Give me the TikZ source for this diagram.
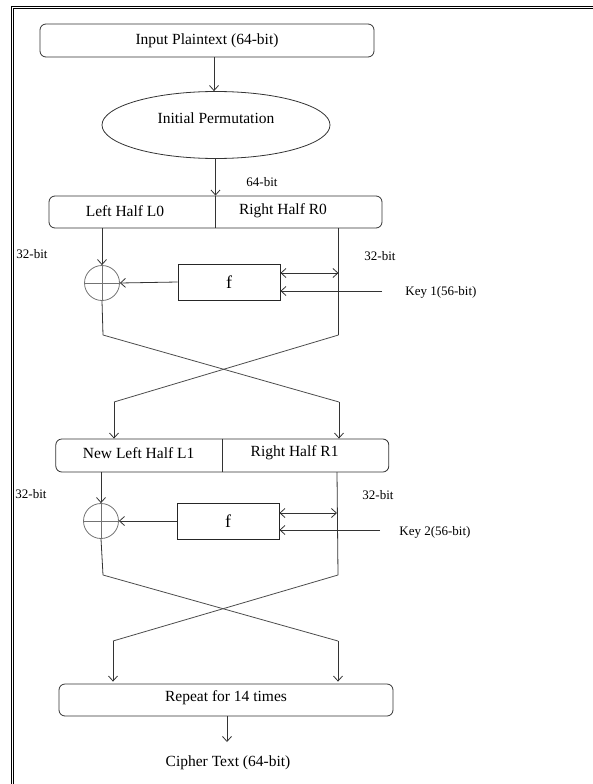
\documentclass[tikz,border=0pt]{standalone}
\usepackage{fontspec}
\setmainfont{Liberation Serif}
\usetikzlibrary{arrows.meta,shapes.geometric}
\begin{document}
\begin{tikzpicture}[x=1pt,y=-1pt,line width=0.8pt,
  ln/.style={draw=black!80},
  arr/.style={-{Straight Barb[length=5pt,width=9pt]}},
  darr/.style={{Straight Barb[length=5pt,width=9pt]}-{Straight Barb[length=5pt,width=9pt]}},
  box/.style={draw=black!80,rounded corners=6pt,minimum height=33pt,inner sep=0pt},
  fbox/.style={draw=black!85,minimum width=102pt,minimum height=36pt,inner sep=0pt,font=\fontsize{18}{20}\selectfont},
  xorc/.style={circle,draw=black!55,minimum size=35pt,inner sep=0pt},
  big/.style={font=\fontsize{15.5}{17}\selectfont,inner sep=0pt},
  small/.style={font=\fontsize{13}{15}\selectfont,inner sep=0pt},
  cross/.style={draw=black!70},
  frame/.style={draw=black,line width=0.8pt}
]
\useasboundingbox (0,0) rectangle (593,784);
% frame (double line, top and left)
\coordinate (fa) at (11.5,784);
\coordinate (fb) at (11.5,6);
\coordinate (fc) at (593,6);
\coordinate (fd) at (13.8,784);
\coordinate (fe) at (13.8,8.3);
\coordinate (ff) at (593,8.3);
\draw[frame] (fa) -- (fb) -- (fc);
\draw[frame] (fd) -- (fe) -- (ff);

% input and initial permutation
\node[box,minimum width=334pt] (inp) at (207,40.5) {};
\node[big] (inpt) at (207,40.5) {Input Plaintext (64-bit)};
\node[ellipse,draw=black!80,minimum width=228pt,minimum height=67pt,inner sep=0pt] (ip) at (216,125) {};
\node[big] (ipt) at (216,118) {Initial Permutation};
\draw[ln,arr] (inp.south -| 214,0) -- (ip.north -| 214,0);

% round 1 halves
\node[box,minimum width=333pt,minimum height=32pt] (h0) at (215.5,212) {};
\draw[ln] (h0.north) -- (h0.south);
\node[big] (l0) at (125,211) {Left Half L0};
\node[big] (r0) at (283,211) {Right Half R0};
\draw[ln,arr] (ip.south -| h0.north) -- (h0.north);
\node[small] (b64) at (262,182) {64-bit};

% round 1 f and xor
\node[xorc] (x0) at (102,283) {};
\draw[draw=black!55] (x0.north) -- (x0.south) (x0.west) -- (x0.east);
\node[fbox] (f0) at (229,282) {f};
\node[small] (l32a) at (32,254) {32-bit};
\node[small] (r32a) at (380,256) {32-bit};
\node[small,anchor=west] (k1) at (405,292) {Key 1(56-bit)};
\coordinate (r0top) at (338.5,228);
\coordinate (r0bot) at (338.5,335);
\coordinate (l0bot) at (103,335);
\coordinate (k1s) at (382,291);
\draw[ln,arr] (h0.south -| x0.north) -- (x0.north);
\draw[ln,arr] (f0.west) -- (x0.east);
\draw[ln,darr] ([yshift=9pt]f0.east) -- ([yshift=9pt]f0.east -| r0top);
\draw[ln,arr] (k1s) -- ([yshift=-9pt]f0.east);
\draw[ln] (r0top) -- (r0bot);
\draw[ln] (x0.south) -- (l0bot);

% round 2 halves
\node[box,minimum width=333pt,minimum height=33pt] (h1) at (222.3,455.5) {};
\draw[ln] (h1.north) -- (h1.south);
\node[big] (l1) at (138.6,453) {New Left Half L1};
\node[big] (r1) at (294.6,453) {Right Half R1};

% cross 1
\coordinate (ca) at (114,402);
\coordinate (cb) at (339,402);
\draw[cross] (l0bot) -- (cb);
\draw[cross] (r0bot) -- (ca);
\draw[ln,arr] (ca) -- (ca |- h1.north);
\draw[ln,arr] (cb) -- (cb |- h1.north);

% round 2 f and xor
\node[xorc] (x1) at (101,521) {};
\draw[draw=black!55] (x1.north) -- (x1.south) (x1.west) -- (x1.east);
\node[fbox] (f1) at (228,521) {f};
\node[small] (l32b) at (31,494) {32-bit};
\node[small] (r32b) at (378,495) {32-bit};
\node[small,anchor=west] (k2) at (399,532) {Key 2(56-bit)};
\coordinate (r1top) at (337,472);
\coordinate (r1bot) at (338,575);
\coordinate (l1bot) at (103,575);
\coordinate (k2s) at (380,530);
\draw[ln,arr] (h1.south -| x1.north) -- (x1.north);
\draw[ln,arr] (f1.west) -- (x1.east);
\draw[ln,darr] ([yshift=8pt]f1.east) -- ([yshift=8pt]f1.east -| r1top);
\draw[ln,arr] (k2s) -- ([yshift=-9pt]f1.east);
\draw[ln] (r1top) -- (r1bot);
\draw[ln] (x1.south) -- (l1bot);

% repeat box
\node[box,minimum width=334pt,minimum height=32pt] (rep) at (226,700) {};
\node[big] (rept) at (226,698) {Repeat for 14 times};

% cross 2
\coordinate (cc) at (113,641);
\coordinate (cd) at (338,641);
\draw[cross] (l1bot) -- (cd);
\draw[cross] (r1bot) -- (cc);
\draw[ln,arr] (cc) -- ([yshift=2pt]cc |- rep.north);
\draw[ln,arr] (cd) -- ([yshift=2pt]cd |- rep.north);

% output
\coordinate (outend) at (227,742);
\draw[ln,arr] (rep.south -| outend) -- (outend);
\node[big] (ct) at (228,763) {Cipher Text (64-bit)};
\end{tikzpicture}
\end{document}
